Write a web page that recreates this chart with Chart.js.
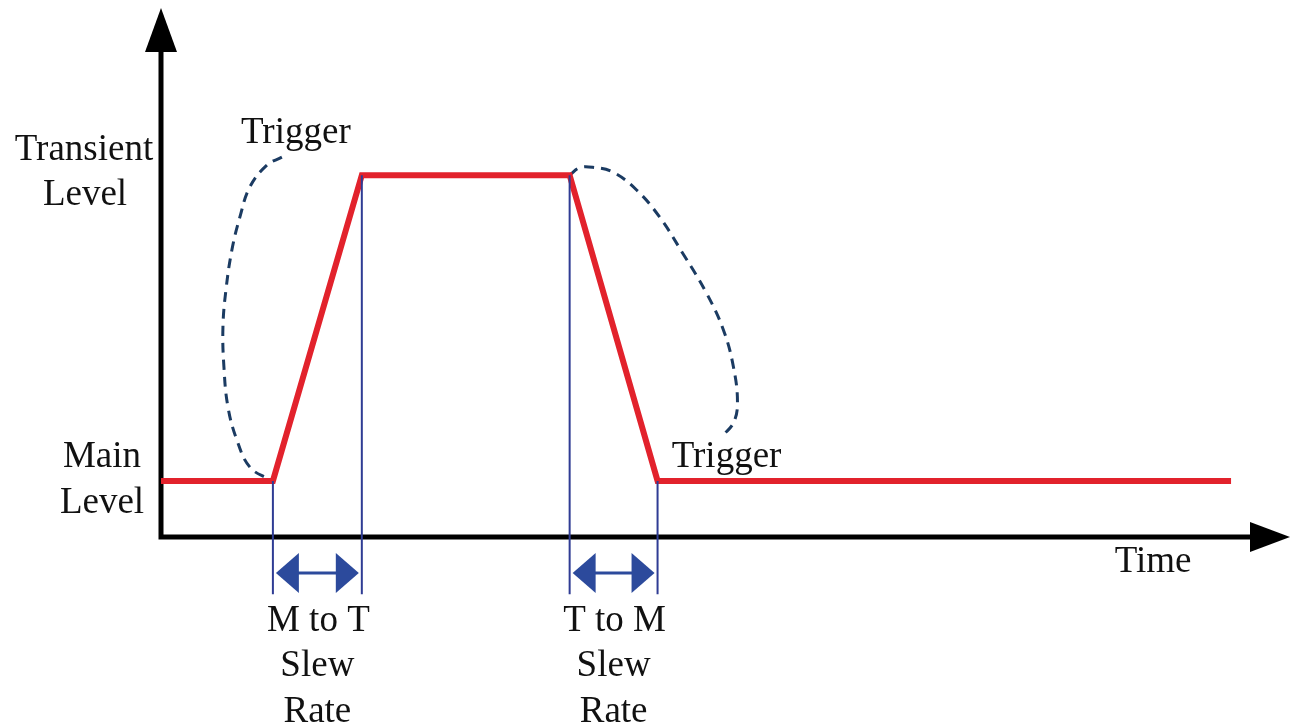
<!DOCTYPE html>
<html>
<head>
<meta charset="utf-8">
<script src="https://cdn.jsdelivr.net/npm/chart.js@4/dist/chart.umd.min.js"></script>
<style>
  body { margin: 0; background: #fff; }
  #wrap { width: 1292px; height: 726px; position: relative; }
</style>
</head>
<body>
<div id="wrap"><canvas id="slewChart"></canvas></div>
<script>
// Livelli (unità arbitrarie, asse y da 0 a 100)
const mainLevel = 10.6;
const transientLevel = 68.4;

// Tempi dei fronti (unità arbitrarie, asse x da 0 a 113)
const edgeTimes = [11.2, 20.1, 40.9, 49.7];
const waveX = [0, 11.2, 20.1, 40.9, 49.7, 107.1];
const waveY = [mainLevel, mainLevel, transientLevel, transientLevel, mainLevel, mainLevel];

// Linee verticali blu: dal livello fino sotto l'asse
const edgeTop = [mainLevel, transientLevel, transientLevel, mainLevel];
const edgeBottom = -10.8;
const arrowLevel = -6.8;

// Curve tratteggiate dei trigger
const trig1X = [12.1, 10.6, 8.9, 7.9, 7.1, 6.5, 6.2, 6.3, 6.7, 7.6, 8.9, 10.9];
const trig1Y = [71.8, 70.3, 66.2, 60.5, 54.3, 46.7, 39.7, 32.1, 24.6, 18.3, 13.2, 10.8];
const trig2X = [40.9, 41.9, 43.2, 45.2, 47.6, 49.9, 52.2, 54.6, 56.3, 57.3, 57.7, 57.3, 56.3];
const trig2Y = [68.4, 69.8, 69.9, 69.0, 65.6, 60.5, 53.7, 46.1, 39.1, 32.1, 25.3, 21.6, 19.3];

const pts = (xs, ys) => xs.map((x, i) => ({ x, y: ys[i] }));

const RED = '#e2222c';
const BLUE = '#2f3c94';
const DASH = '#1b3b62';
const FONT = '37px "Liberation Serif", "DejaVu Serif", serif';

// Assi con frecce, doppie frecce e testi
const diagramPlugin = {
  id: 'diagram',
  beforeDatasetsDraw(chart) {
    const { ctx, chartArea: a } = chart;
    ctx.save();
    ctx.strokeStyle = '#000';
    ctx.fillStyle = '#000';
    ctx.lineWidth = 5;
    ctx.beginPath();
    ctx.moveTo(a.left, a.top + 30);
    ctx.lineTo(a.left, a.bottom);
    ctx.lineTo(a.right - 30, a.bottom);
    ctx.stroke();
    // freccia asse y
    ctx.beginPath();
    ctx.moveTo(a.left, a.top);
    ctx.lineTo(a.left - 16, a.top + 44);
    ctx.lineTo(a.left + 16, a.top + 44);
    ctx.closePath();
    ctx.fill();
    // freccia asse x
    ctx.beginPath();
    ctx.moveTo(a.right, a.bottom);
    ctx.lineTo(a.right - 40, a.bottom - 15);
    ctx.lineTo(a.right - 40, a.bottom + 15);
    ctx.closePath();
    ctx.fill();
    ctx.restore();
  },
  afterDatasetsDraw(chart) {
    const { ctx } = chart;
    const xs = chart.scales.x, ys = chart.scales.y;
    const ay = ys.getPixelForValue(arrowLevel);

    const doubleArrow = (x1, x2) => {
      const l = xs.getPixelForValue(x1) + 3;
      const r = xs.getPixelForValue(x2) - 3;
      ctx.save();
      ctx.fillStyle = '#2c4a9c';
      ctx.strokeStyle = '#2c4a9c';
      ctx.lineWidth = 3;
      ctx.beginPath();
      ctx.moveTo(l + 20, ay);
      ctx.lineTo(r - 20, ay);
      ctx.stroke();
      ctx.beginPath();
      ctx.moveTo(l, ay);
      ctx.lineTo(l + 23, ay - 20);
      ctx.lineTo(l + 23, ay + 20);
      ctx.closePath();
      ctx.fill();
      ctx.beginPath();
      ctx.moveTo(r, ay);
      ctx.lineTo(r - 23, ay - 20);
      ctx.lineTo(r - 23, ay + 20);
      ctx.closePath();
      ctx.fill();
      ctx.restore();
    };
    doubleArrow(edgeTimes[0], edgeTimes[1]);
    doubleArrow(edgeTimes[2], edgeTimes[3]);

    ctx.save();
    ctx.fillStyle = '#111';
    ctx.font = FONT;
    ctx.textAlign = 'center';
    ctx.textBaseline = 'alphabetic';
    const text = (s, x, y) => ctx.fillText(s, x, y);

    const axisX = xs.getPixelForValue(0);
    const mainY = ys.getPixelForValue(mainLevel);
    const transY = ys.getPixelForValue(transientLevel);
    text('Transient', axisX - 77, transY - 15);
    text('Level', axisX - 76, transY + 30);
    text('Main', axisX - 59, mainY - 14);
    text('Level', axisX - 59, mainY + 32);

    text('Trigger', xs.getPixelForValue(trig1X[0]) + 14, ys.getPixelForValue(trig1Y[0]) - 14);
    text('Trigger', xs.getPixelForValue(edgeTimes[3]) + 69, mainY - 14);
    text('Time', xs.getPixelForValue(99.3), ys.getPixelForValue(0) + 35);

    const slew = (a, b, s) => {
      const cx = (xs.getPixelForValue(a) + xs.getPixelForValue(b)) / 2;
      text(s, cx + 1, ay + 58);
      text('Slew', cx, ay + 103);
      text('Rate', cx, ay + 149);
    };
    slew(edgeTimes[0], edgeTimes[1], 'M to T');
    slew(edgeTimes[2], edgeTimes[3], 'T to M');
    ctx.restore();
  }
};

const edgeSets = edgeTimes.map((t, i) => ({
  data: [{ x: t, y: edgeTop[i] }, { x: t, y: edgeBottom }],
  borderColor: BLUE,
  borderWidth: 2,
  pointRadius: 0,
  clip: false
}));

new Chart(document.getElementById('slewChart'), {
  type: 'scatter',
  data: {
    datasets: [
      ...edgeSets,
      {
        data: pts(waveX, waveY),
        borderColor: RED,
        borderWidth: 6,
        pointRadius: 0,
        borderJoinStyle: 'miter',
        clip: false
      },
      {
        data: pts(trig1X, trig1Y),
        borderColor: DASH,
        borderWidth: 3,
        borderDash: [10, 7],
        tension: 0.4,
        pointRadius: 0,
        clip: false
      },
      {
        data: pts(trig2X, trig2Y),
        borderColor: DASH,
        borderWidth: 3,
        borderDash: [10, 7],
        tension: 0.4,
        pointRadius: 0,
        clip: false
      }
    ].map(d => ({ ...d, showLine: true }))
  },
  options: {
    responsive: true,
    maintainAspectRatio: false,
    animation: false,
    layout: { padding: { left: 161, top: 8, right: 2, bottom: 189 } },
    plugins: { legend: { display: false }, tooltip: { enabled: false } },
    scales: {
      x: { type: 'linear', min: 0, max: 113, display: false },
      y: { type: 'linear', min: 0, max: 100, display: false }
    }
  },
  plugins: [diagramPlugin]
});
</script>
</body>
</html>
